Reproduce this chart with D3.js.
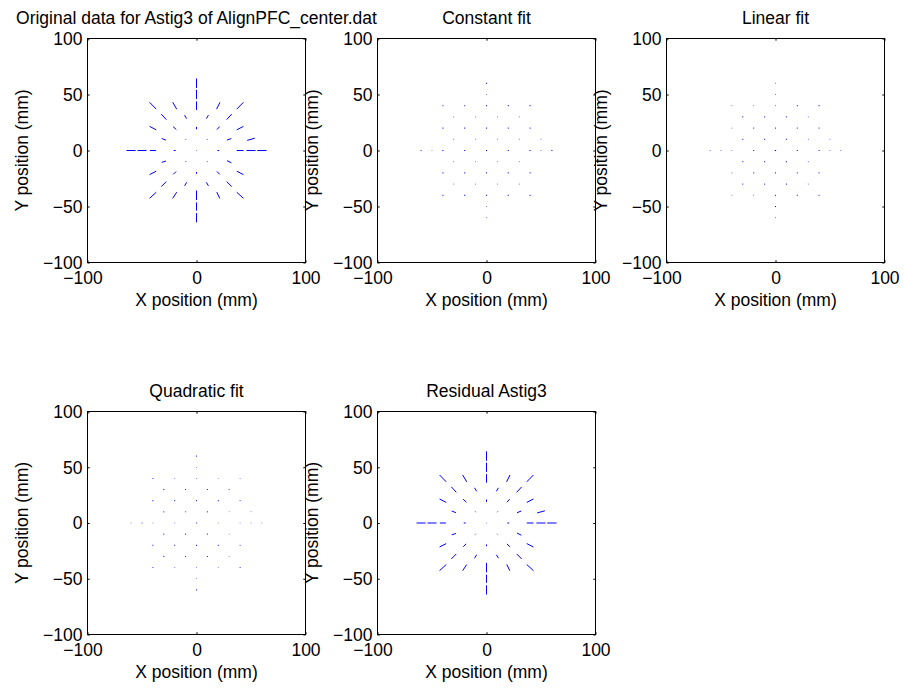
<!DOCTYPE html>
<html>
<head>
<meta charset="utf-8">
<script src="https://cdn.jsdelivr.net/npm/d3@7"></script>
<style>
  body { margin: 0; background: #fff; }
  svg { display: block; }
  text { font-family: "Liberation Sans", Arial, Helvetica, sans-serif; font-size: 17.5px; fill: #000; }
</style>
</head>
<body>
<svg id="fig" width="904" height="689"></svg>
<script>
// Measurement grid positions (mm)
const ptX = [0, 0,
  -40, -20, 0, 20, 40,
  -30, -10, 10, 30,
  -40, -20, 0, 20, 40,
  -30, -10, 10, 30, 50,
  -60, -50, -40, -20, 0, 20, 40, 50, 60,
  -30, -10, 10, 30,
  -40, -20, 0, 20, 40,
  -30, -10, 10, 30,
  -40, -20, 0, 20, 40,
  0, 0];
const ptY = [60, 50,
  40, 40, 40, 40, 40,
  30, 30, 30, 30,
  20, 20, 20, 20, 20,
  10, 10, 10, 10, 10,
  0, 0, 0, 0, 0, 0, 0, 0, 0,
  -10, -10, -10, -10,
  -20, -20, -20, -20, -20,
  -30, -30, -30, -30,
  -40, -40, -40, -40, -40,
  -50, -60];

// Astig3 vector components at each point (mm, full segment length)
const origU = [0, 0,
  -6.1, -3.7, 0, 3.1, 6.1,
  -4.6, -1.9, 1.9, 4.6,
  -6.1, -3.0, 0, 2.5, 6.1,
  -3.9, -0.6, 0.6, 3.9, 7.0,
  -8.3, -8.3, -5.5, -1.8, 0.4, 1.6, 6.1, 8.3, 8.5,
  -3.9, -0.6, 0.6, 4.0,
  -6.1, -2.6, 0, 2.6, 6.1,
  -4.5, -1.9, 1.9, 4.5,
  -6.2, -3.7, 0, 2.8, 6.2,
  0, 0];
const origV = [8.5, 8.3,
  6.1, 6.2, 7.6, 6.1, 6.1,
  4.9, 3.1, 3.1, 4.9,
  3.1, 2.7, 2.1, 2.7, 3.1,
  1.5, 0.6, 0.6, 1.5, 1.9,
  0, 0, 0, 0, 0, 0, 0, 0, 0,
  -1.2, -0.6, -0.6, -1.9,
  -3.1, -2.6, -1.6, -2.6, -3.1,
  -4.5, -3.1, -3.1, -4.5,
  -5.5, -5.5, -8.5, -5.7, -5.5,
  -7.3, -8.3];

// Residual after removing the quadratic fit
const residU = [0, 0,
  -6.1, -3.7, 0, 3.1, 6.1,
  -4.6, -1.9, 1.9, 4.6,
  -6.1, -3.0, 0, 2.5, 6.1,
  -3.9, -0.6, 0.6, 3.9, 7.0,
  -8.3, -8.3, -5.5, -1.8, 0.4, 1.6, 6.1, 8.3, 8.5,
  -3.9, -0.6, 0.6, 4.0,
  -6.1, -2.6, 0, 2.6, 6.1,
  -4.5, -1.9, 1.9, 4.5,
  -6.2, -3.7, 0, 2.8, 6.2,
  0, 0];
const residV = [8.5, 8.3,
  6.1, 6.2, 7.6, 6.1, 6.1,
  4.9, 3.1, 3.1, 4.9,
  3.1, 2.7, 2.1, 2.7, 3.1,
  1.5, 0.6, 0.6, 1.5, 1.9,
  0, 0, 0, 0, 0, 0, 0, 0, 0,
  -1.2, -0.6, -0.6, -1.9,
  -3.1, -2.6, -1.6, -2.6, -3.1,
  -4.5, -3.1, -3.1, -4.5,
  -5.5, -5.5, -8.5, -5.7, -5.5,
  -7.3, -8.3];

// Fitted vector magnitudes (mm) and their orientation (deg)
const constLen = [1.0, 0.5,
  0.8, 0.8, 1.0, 1.0, 1.0,
  0.5, 0.5, 0.5, 0.5,
  1.0, 1.0, 1.0, 1.0, 1.0,
  0.5, 0.5, 0.5, 0.5, 0.5,
  0.8, 0.4, 1.0, 1.0, 1.0, 1.0, 1.0, 0.5, 1.0,
  0.5, 0.5, 0.5, 0.5,
  1.0, 1.0, 1.0, 1.0, 1.0,
  0.5, 0.5, 0.5, 0.5,
  1.0, 1.0, 1.0, 1.0, 1.0,
  0.5, 0.5];
const constAngle = 0;

const linLen = [0.5, 0.5,
  0.5, 0.5, 0.5, 1.0, 1.0,
  0.9, 0.9, 0.9, 0.5,
  0.5, 0.9, 0.9, 0.9, 0.9,
  0.9, 0.9, 0.9, 0.5, 0.5,
  0.5, 0.5, 0.5, 0.9, 1.2, 0.9, 0.9, 0.5, 0.5,
  0.9, 0.9, 0.9, 0.5,
  0.5, 0.9, 0.9, 0.9, 0.9,
  0.9, 0.9, 0.9, 0.5,
  0.5, 0.5, 0.9, 0.9, 0.9,
  0.9, 0.5];
const linAngle = 0;

const quadLen = [0.9, 0.4,
  0.7, 0.4, 0.4, 0.4, 0.4,
  0.9, 0.9, 0.9, 0.7,
  0.9, 0.9, 0.9, 0.9, 0.7,
  0.9, 0.7, 0.9, 0.4, 0.4,
  0.4, 0.7, 0.4, 0.4, 0.7, 0.4, 0.4, 0.4, 0.4,
  0.9, 0.9, 0.9, 0.4,
  0.9, 0.9, 0.9, 0.9, 0.7,
  0.9, 0.9, 0.9, 0.4,
  0.7, 0.4, 0.4, 0.4, 0.7,
  0.4, 0.9];
const quadAngle = 90;

// Axis ticks
const xTicks = [-100, 0, 100];
const yTicks = [-100, -50, 0, 50, 100];
const axisDomain = [-100, 100];

const toUV = (len, angle) => ({
  u: len.map(l => l * Math.cos(angle * Math.PI / 180)),
  v: len.map(l => l * Math.sin(angle * Math.PI / 180))
});
const constUV = toUV(constLen, constAngle);
const linUV = toUV(linLen, linAngle);
const quadUV = toUV(quadLen, quadAngle);

const panels = [
  { title: "Original data for Astig3 of AlignPFC_center.dat", left: 87, top: 38, h: 224, u: origU, v: origV },
  { title: "Constant fit", left: 377, top: 38, h: 224, u: constUV.u, v: constUV.v },
  { title: "Linear fit", left: 666, top: 38, h: 224, u: linUV.u, v: linUV.v },
  { title: "Quadratic fit", left: 87, top: 411, h: 223, u: quadUV.u, v: quadUV.v },
  { title: "Residual Astig3", left: 377, top: 411, h: 223, u: residU, v: residV }
];

const W = 218;
const svg = d3.select("#fig");

panels.forEach(p => {
  const H = p.h;
  const x = d3.scaleLinear().domain(axisDomain).range([0, W]);
  const y = d3.scaleLinear().domain(axisDomain).range([H, 0]);
  const g = svg.append("g").attr("transform", `translate(${p.left + 0.5},${p.top + 0.5})`);

  // vector segments centred on each grid point
  g.append("g")
    .selectAll("line")
    .data(ptX.map((px, i) => ({ px, py: ptY[i], u: p.u[i], v: p.v[i] })))
    .join("line")
    .attr("x1", d => x(d.px - d.u / 2))
    .attr("y1", d => y(d.py - d.v / 2))
    .attr("x2", d => x(d.px + d.u / 2))
    .attr("y2", d => y(d.py + d.v / 2))
    .attr("stroke", "#0000ff")
    .attr("stroke-width", 1)
    .attr("stroke-linecap", "butt");

  const tickLen = -2.2;
  const bottom = g.append("g").attr("transform", `translate(0,${H})`)
    .call(d3.axisBottom(x).tickValues(xTicks).tickSizeInner(tickLen).tickSizeOuter(0).tickPadding(9));
  bottom.selectAll("text").attr("dx", d => d < 0 ? "-0.29em" : null);
  const left = g.append("g")
    .call(d3.axisLeft(y).tickValues(yTicks).tickSizeInner(tickLen).tickSizeOuter(0).tickPadding(5));
  left.selectAll("text").attr("dy", "0.34em");
  g.append("g")
    .call(d3.axisTop(x).tickValues(xTicks).tickSizeInner(tickLen).tickSizeOuter(0).tickFormat(""));
  g.append("g").attr("transform", `translate(${W},0)`)
    .call(d3.axisRight(y).tickValues(yTicks).tickSizeInner(tickLen).tickSizeOuter(0).tickFormat(""));

  g.selectAll(".domain").remove();
  g.selectAll(".tick line").attr("stroke", "#000");
  g.selectAll(".tick text").attr("font-size", 17.5)
    .attr("font-family", '"Liberation Sans", Arial, sans-serif').attr("fill", "#000");

  g.append("rect").attr("x", 0).attr("y", 0).attr("width", W).attr("height", H)
    .attr("fill", "none").attr("stroke", "#000").attr("stroke-width", 1);

  g.append("text").attr("x", W / 2).attr("y", -14.5).attr("text-anchor", "middle").text(p.title);
  g.append("text").attr("x", W / 2).attr("y", H + 43).attr("text-anchor", "middle").text("X position (mm)");
  g.append("text").attr("transform", `translate(-59.5,${H / 2}) rotate(-90)`)
    .attr("text-anchor", "middle").text("Y position (mm)");
});
</script>
</body>
</html>
